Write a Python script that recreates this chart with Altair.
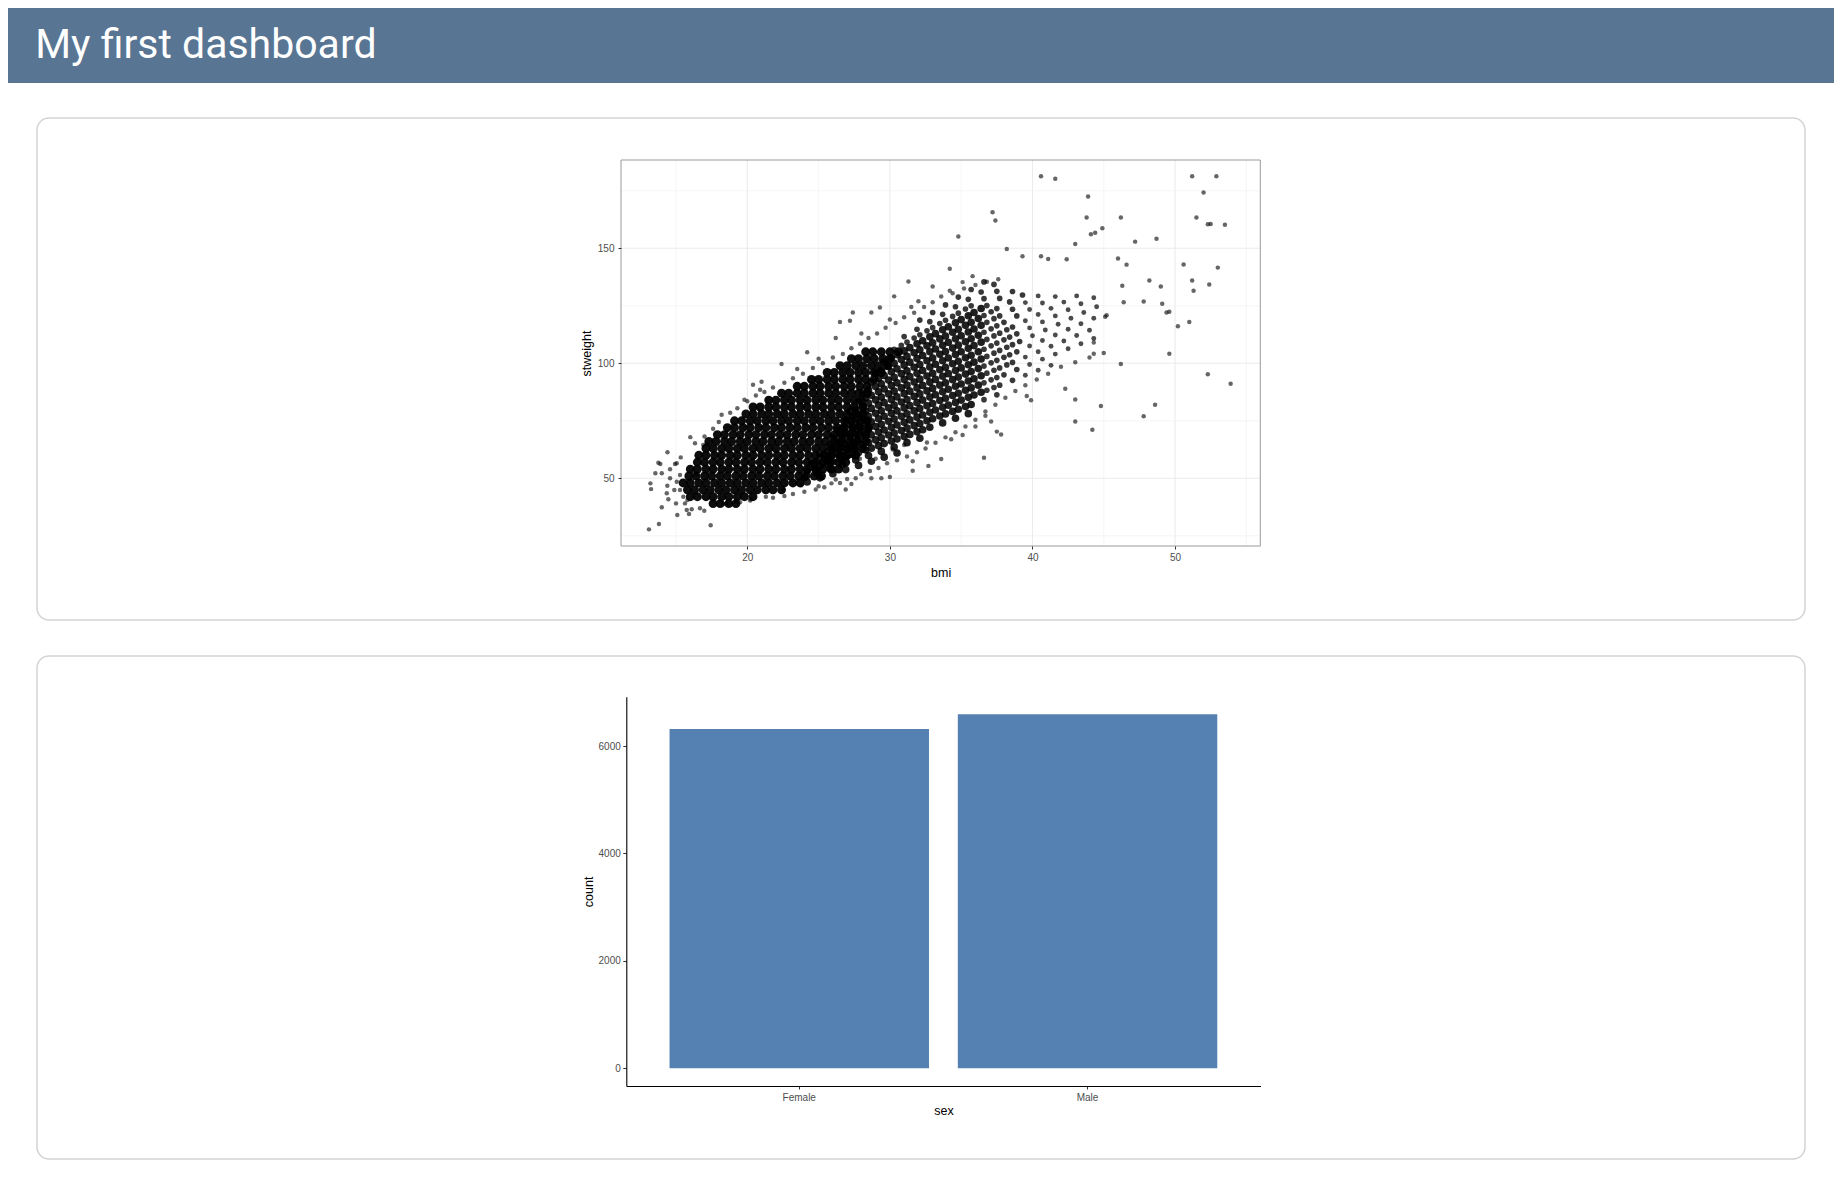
import altair as alt
import pandas as pd

# ---------------- data ----------------
sex = ["Female", "Male"]
sex_count = [6317, 6590]

x_major = [20, 30, 40, 50]
x_minor = [15, 25, 35, 45, 55]
y_major = [50, 100, 150]
y_minor = [25, 75, 125, 175]
count_ticks = [0, 2000, 4000, 6000]

# isolated points (bmi, stweight)
outlier_points = [
    (40.6, 181.3), (41.6, 180.2), (51.2, 181.3), (52.9, 181.3), (52.0, 174.3), (43.9, 172.5),
    (37.2, 165.7), (37.4, 162.1), (43.8, 163.4), (46.2, 163.4), (51.5, 163.4), (52.3, 160.5),
    (52.5, 160.6), (53.5, 160.2), (44.9, 158.7), (44.4, 156.8), (44.1, 156.1), (34.8, 155.1),
    (48.7, 154.2), (47.2, 152.9), (43.0, 151.9), (38.2, 149.7), (39.3, 146.5), (40.6, 146.5),
    (41.1, 145.3), (42.4, 145.2), (46.0, 145.6), (46.6, 142.9), (50.6, 143.0), (53.0, 141.6),
    (34.2, 141.1), (48.2, 136.0), (51.2, 136.0), (52.4, 134.3), (49.0, 133.4), (46.3, 133.7),
    (51.3, 131.5), (46.4, 126.5), (47.8, 126.9), (49.1, 125.9), (49.6, 122.4), (49.4, 122.1),
    (51.0, 118.0), (50.2, 116.1), (49.6, 104.2), (46.2, 99.7), (52.3, 95.2), (53.9, 91.1),
    (42.3, 88.9), (43.0, 84.3), (39.6, 85.8), (39.9, 83.9), (44.8, 81.4), (48.6, 82.0),
    (47.8, 77.0), (43.0, 74.7), (44.2, 71.1), (45.1, 120.2), (45.2, 120.9), (44.3, 104.2),
    (44.3, 109.0),
    (36.7, 77.2), (37.1, 74.7), (37.5, 70.3), (37.8, 69.0), (36.0, 72.5), (35.1, 68.8),
    (34.3, 67.0), (32.6, 65.6), (36.6, 58.9), (33.6, 58.4), (32.7, 55.4), (31.6, 57.4),
    (31.6, 53.3), (30.0, 50.6), (29.4, 50.0), (28.7, 50.0), (27.6, 50.0), (26.9, 45.1),
    (26.5, 48.0), (25.4, 46.1), (24.8, 45.1), (27.3, 47.5),
    (31.3, 135.6), (33.0, 133.4), (34.2, 131.5), (35.1, 135.3), (35.8, 137.9), (30.3, 129.1),
    (29.3, 124.3), (27.4, 122.1), (28.7, 122.1), (26.5, 118.0), (26.2, 111.0), (24.2, 104.8),
    (22.4, 99.7), (20.4, 90.7), (20.9, 88.5), (19.8, 84.2), (18.2, 77.6), (19.7, 76.0),
    (13.1, 27.8), (13.8, 30.1), (14.0, 37.4), (13.2, 47.8), (13.25, 45.3), (13.55, 52.2),
    (14.0, 52.2), (14.4, 61.3), (13.76, 56.8), (13.9, 56.2), (14.58, 53.9), (14.93, 56.2),
    (15.05, 56.5), (15.33, 59.1), (14.39, 46.8), (14.35, 43.5), (14.58, 50.0), (14.88, 44.9),
    (15.0, 39.1), (14.46, 40.9), (15.09, 34.0), (15.63, 39.1), (15.75, 36.2), (15.91, 34.5),
    (16.1, 36.5), (17.43, 29.6), (20.24, 40.9), (19.49, 39.6), (19.21, 39.8), (18.32, 38.8),
    (18.55, 39.1), (16.98, 35.9), (16.68, 37.0), (16.33, 65.2), (16.91, 64.5), (17.15, 64.9),
    (15.28, 51.4), (15.05, 48.5), (15.28, 44.9), (15.51, 42.0), (16.0, 67.9), (17.0, 68.2),
    (16.4, 51.9), (15.8, 40.6), (20.2, 40.4), (21.3, 42.0), (23.2, 43.2),
]

# scattered points along the edges of the main cloud
fringe_points = [
    (17.6, 71.5), (18.0, 74.5), (18.8, 78.5), (19.3, 80.5), (20.0, 83.5), (20.6, 86.0),
    (21.2, 87.5), (21.8, 89.5), (22.6, 91.5), (23.2, 93.5), (23.9, 95.5), (24.6, 98.0),
    (25.3, 100.0), (26.0, 102.5), (26.7, 104.0), (27.3, 106.5), (27.9, 108.5), (28.5, 111.0),
    (29.1, 113.0), (29.7, 115.5), (30.4, 117.5), (31.0, 120.0), (31.7, 122.0), (32.4, 124.5),
    (33.0, 126.5), (33.6, 129.0), (34.4, 130.5), (35.2, 132.5), (36.0, 134.0), (36.8, 135.5),
    (37.6, 136.5), (21.0, 92.0), (23.5, 97.5), (25.0, 102.0), (28.0, 113.0), (30.0, 119.0),
    (32.0, 127.0), (27.2, 118.5), (31.5, 124.5),
    (21.8, 41.5), (22.6, 42.3), (24.0, 44.2), (25.0, 46.5), (25.9, 47.8), (26.2, 49.5),
    (27.0, 49.7), (28.0, 51.8), (28.6, 53.2), (29.2, 54.5), (29.8, 56.5), (30.5, 57.8),
    (31.2, 59.5), (31.9, 61.3), (32.5, 63.0), (33.2, 65.5), (33.9, 67.8), (34.6, 70.0),
    (35.3, 72.5), (36.0, 75.5), (36.7, 79.0), (37.4, 82.0), (38.1, 85.0), (38.8, 88.0),
    (39.5, 90.5), (40.3, 93.0), (41.1, 95.5), (42.0, 98.5), (43.0, 100.5), (44.0, 102.5),
    (45.0, 104.5), (27.9, 58.5), (26.5, 55.0), (25.0, 53.0), (30.2, 62.5), (23.8, 47.0),
    (22.5, 45.0), (29.0, 58.5), (31.0, 64.5),
]

# heavily over-plotted core of the cloud: (stweight, [bmi values])
core_rows = [
    (39, [17.6, 18.1, 18.7, 19.2]),
    (42, [16.0, 16.5, 17.1, 17.6, 18.2, 18.7, 19.3, 19.8, 20.4]),
    (45, [15.8, 16.3, 16.9, 17.4, 18.0, 18.5, 19.1, 19.6, 20.2, 20.7, 21.3, 21.8, 22.4]),
    (48, [15.5, 16.0, 16.6, 17.1, 17.7, 18.2, 18.8, 19.3, 19.9, 20.4, 21.0, 21.5, 22.1, 22.6, 23.2, 23.7]),
    (51, [15.9, 16.4, 17.0, 17.5, 18.1, 18.6, 19.2, 19.7, 20.3, 20.8, 21.4, 21.9, 22.5, 23.0, 23.6, 24.1, 24.7, 25.2]),
    (54, [16.0, 16.5, 17.1, 17.6, 18.2, 18.7, 19.3, 19.8, 20.4, 20.9, 21.5, 22.0, 22.6, 23.1, 23.7, 24.2, 24.8, 25.3, 25.9, 26.4]),
    (57, [16.5, 17.0, 17.6, 18.1, 18.7, 19.2, 19.8, 20.3, 20.9, 21.4, 22.0, 22.5, 23.1, 23.6, 24.2, 24.7, 25.3, 25.8, 26.4, 26.9]),
    (60, [16.6, 17.1, 17.7, 18.2, 18.8, 19.3, 19.9, 20.4, 21.0, 21.5, 22.1, 22.6, 23.2, 23.7, 24.3, 24.8, 25.4, 25.9, 26.5, 27.0, 27.6]),
    (63, [17.1, 17.6, 18.2, 18.7, 19.3, 19.8, 20.4, 20.9, 21.5, 22.0, 22.6, 23.1, 23.7, 24.2, 24.8, 25.3, 25.9, 26.4, 27.0, 27.5, 28.1]),
    (66, [17.3, 17.8, 18.4, 18.9, 19.5, 20.0, 20.6, 21.1, 21.7, 22.2, 22.8, 23.3, 23.9, 24.4, 25.0, 25.5, 26.1, 26.6, 27.2, 27.7, 28.3]),
    (69, [17.9, 18.4, 19.0, 19.5, 20.1, 20.6, 21.2, 21.7, 22.3, 22.8, 23.4, 23.9, 24.5, 25.0, 25.6, 26.1, 26.7, 27.2, 27.8, 28.3]),
    (72, [18.6, 19.1, 19.7, 20.2, 20.8, 21.3, 21.9, 22.4, 23.0, 23.5, 24.1, 24.6, 25.2, 25.7, 26.3, 26.8, 27.4, 27.9, 28.5]),
    (75, [19.1, 19.6, 20.2, 20.7, 21.3, 21.8, 22.4, 22.9, 23.5, 24.0, 24.6, 25.1, 25.7, 26.2, 26.8, 27.3, 27.9, 28.4]),
    (78, [19.9, 20.4, 21.0, 21.5, 22.1, 22.6, 23.2, 23.7, 24.3, 24.8, 25.4, 25.9, 26.5, 27.0, 27.6, 28.1]),
    (81, [20.4, 20.9, 21.5, 22.0, 22.6, 23.1, 23.7, 24.2, 24.8, 25.3, 25.9, 26.4, 27.0, 27.5, 28.1]),
    (84, [21.5, 22.0, 22.6, 23.1, 23.7, 24.2, 24.8, 25.3, 25.9, 26.4, 27.0, 27.5, 28.0]),
    (87, [22.4, 22.9, 23.5, 24.0, 24.6, 25.1, 25.7, 26.2, 26.8, 27.3, 27.8, 28.4]),
    (90, [23.5, 24.0, 24.6, 25.1, 25.7, 26.2, 26.8, 27.3, 27.9, 28.4]),
    (93, [24.5, 25.0, 25.6, 26.1, 26.7, 27.2, 27.8, 28.3, 28.9]),
    (96, [25.6, 26.1, 26.7, 27.2, 27.8, 28.3, 28.9, 29.4]),
    (99, [26.5, 27.0, 27.6, 28.1, 28.7, 29.2, 29.8]),
    (102, [27.3, 27.8, 28.4, 28.9, 29.5, 30.0]),
    (105, [28.3, 28.8, 29.4, 30.0, 30.6]),
]

# streaks of the upper-right part of the cloud, one line per streak: (bmi, stweight)
streak_points = [
    (24.2, 48.4), (25.1, 50.2), (26.0, 52.0), (26.9, 53.8), (27.8, 55.6), (28.7, 57.4), (29.6, 59.2), (30.5, 61.0),
    (24.0, 50.4), (24.9, 52.3), (25.8, 54.2), (26.7, 56.1), (27.6, 58.0), (28.5, 59.9), (29.4, 61.7), (30.3, 63.6), (31.2, 65.5), (32.1, 67.4),
    (24.2, 53.2), (24.7, 54.3), (25.1, 55.2), (25.6, 56.3), (26.0, 57.2), (26.5, 58.3), (26.9, 59.2), (27.4, 60.3), (27.8, 61.2), (28.3, 62.3), (28.7, 63.1), (29.2, 64.2), (29.6, 65.1), (30.1, 66.2), (30.5, 67.1), (31.0, 68.2), (31.4, 69.1), (31.9, 70.2), (32.3, 71.1), (32.8, 72.2), (33.7, 74.1), (34.6, 76.1), (35.5, 78.1),
    (24.5, 56.4), (24.9, 57.3), (25.4, 58.4), (25.8, 59.3), (26.3, 60.5), (26.7, 61.4), (27.2, 62.6), (27.6, 63.5), (28.1, 64.6), (28.5, 65.6), (29.0, 66.7), (29.4, 67.6), (29.9, 68.8), (30.3, 69.7), (30.8, 70.8), (31.2, 71.8), (31.7, 72.9), (32.1, 73.8), (32.6, 75.0), (33.0, 75.9), (33.5, 77.1), (33.9, 78.0), (34.4, 79.1), (34.8, 80.0), (35.3, 81.2), (35.7, 82.1), (36.6, 84.2), (37.5, 86.3),
    (25.1, 60.2), (25.6, 61.4), (26.0, 62.4), (26.5, 63.6), (26.9, 64.6), (27.4, 65.8), (27.8, 66.7), (28.3, 67.9), (28.7, 68.9), (29.2, 70.1), (29.6, 71.0), (30.1, 72.2), (30.5, 73.2), (31.0, 74.4), (31.4, 75.4), (31.9, 76.6), (32.3, 77.5), (32.8, 78.7), (33.2, 79.7), (33.7, 80.9), (34.1, 81.8), (34.6, 83.0), (35.0, 84.0), (35.5, 85.2), (35.9, 86.2), (36.4, 87.4), (36.8, 88.3), (37.3, 89.5), (37.7, 90.5), (38.6, 92.6), (39.5, 94.8), (40.4, 97.0), (41.3, 99.1),
    (25.8, 64.5), (26.3, 65.8), (26.7, 66.8), (27.2, 68.0), (27.6, 69.0), (28.1, 70.3), (28.5, 71.3), (29.0, 72.5), (29.4, 73.5), (29.9, 74.8), (30.3, 75.8), (30.8, 77.0), (31.2, 78.0), (31.7, 79.3), (32.1, 80.3), (32.6, 81.5), (33.0, 82.5), (33.5, 83.8), (33.9, 84.8), (34.4, 86.0), (34.8, 87.0), (35.3, 88.3), (35.7, 89.3), (36.2, 90.5), (36.6, 91.5), (37.1, 92.8), (37.5, 93.8), (38.0, 95.0), (38.9, 97.3), (39.8, 99.5), (40.7, 101.8), (41.6, 104.0), (42.5, 106.3), (43.4, 108.5), (44.3, 110.8),
    (26.0, 67.6), (26.5, 68.9), (26.9, 69.9), (27.4, 71.2), (27.8, 72.3), (28.3, 73.6), (28.7, 74.6), (29.2, 75.9), (29.6, 77.0), (30.1, 78.3), (30.5, 79.3), (31.0, 80.6), (31.4, 81.6), (31.9, 82.9), (32.3, 84.0), (32.8, 85.3), (33.2, 86.3), (33.7, 87.6), (34.1, 88.7), (34.6, 90.0), (35.0, 91.0), (35.5, 92.3), (35.9, 93.3), (36.4, 94.6), (36.8, 95.7), (37.3, 97.0), (37.7, 98.0), (38.2, 99.3), (38.6, 100.4), (39.5, 102.7), (40.4, 105.0), (41.3, 107.4), (42.2, 109.7), (43.1, 112.1), (44.0, 114.4),
    (26.3, 71.0), (26.7, 72.1), (27.2, 73.4), (27.6, 74.5), (28.1, 75.9), (28.5, 77.0), (29.0, 78.3), (29.4, 79.4), (29.9, 80.7), (30.3, 81.8), (30.8, 83.2), (31.2, 84.2), (31.7, 85.6), (32.1, 86.7), (32.6, 88.0), (33.0, 89.1), (33.5, 90.5), (33.9, 91.5), (34.4, 92.9), (34.8, 94.0), (35.3, 95.3), (35.7, 96.4), (36.2, 97.7), (36.6, 98.8), (37.1, 100.2), (37.5, 101.3), (38.0, 102.6), (38.4, 103.7), (38.9, 105.0), (39.8, 107.5), (40.7, 109.9), (41.6, 112.3), (42.5, 114.8), (43.4, 117.2), (44.3, 119.6),
    (26.9, 75.3), (27.4, 76.7), (27.8, 77.8), (28.3, 79.2), (28.7, 80.4), (29.2, 81.8), (29.6, 82.9), (30.1, 84.3), (30.5, 85.4), (31.0, 86.8), (31.4, 87.9), (31.9, 89.3), (32.3, 90.4), (32.8, 91.8), (33.2, 93.0), (33.7, 94.4), (34.1, 95.5), (34.6, 96.9), (35.0, 98.0), (35.5, 99.4), (35.9, 100.5), (36.4, 101.9), (36.8, 103.0), (37.3, 104.4), (37.7, 105.6), (38.2, 107.0), (38.6, 108.1), (39.1, 109.5), (40.0, 112.0), (40.9, 114.5), (41.8, 117.0), (42.7, 119.6), (43.6, 122.1), (44.5, 124.6),
    (27.2, 78.9), (27.6, 80.0), (28.1, 81.5), (28.5, 82.7), (29.0, 84.1), (29.4, 85.3), (29.9, 86.7), (30.3, 87.9), (30.8, 89.3), (31.2, 90.5), (31.7, 91.9), (32.1, 93.1), (32.6, 94.5), (33.0, 95.7), (33.5, 97.2), (33.9, 98.3), (34.4, 99.8), (34.8, 100.9), (35.3, 102.4), (35.7, 103.5), (36.2, 105.0), (36.6, 106.1), (37.1, 107.6), (37.5, 108.8), (38.0, 110.2), (38.4, 111.4), (38.9, 112.8), (39.8, 115.4), (40.7, 118.0), (41.6, 120.6), (42.5, 123.3), (43.4, 125.9), (44.3, 128.5),
    (27.8, 83.4), (28.3, 84.9), (28.7, 86.1), (29.2, 87.6), (29.6, 88.8), (30.1, 90.3), (30.5, 91.5), (31.0, 93.0), (31.4, 94.2), (31.9, 95.7), (32.3, 96.9), (32.8, 98.4), (33.2, 99.6), (33.7, 101.1), (34.1, 102.3), (34.6, 103.8), (35.0, 105.0), (35.5, 106.5), (35.9, 107.7), (36.4, 109.2), (36.8, 110.4), (37.3, 111.9), (37.7, 113.1), (38.2, 114.6), (38.6, 115.8), (39.5, 118.5), (40.4, 121.2), (41.3, 123.9), (42.2, 126.6), (43.1, 129.3),
    (28.1, 87.1), (28.5, 88.4), (29.0, 89.9), (29.4, 91.1), (29.9, 92.7), (30.3, 93.9), (30.8, 95.5), (31.2, 96.7), (31.7, 98.3), (32.1, 99.5), (32.6, 101.1), (33.0, 102.3), (33.5, 103.9), (33.9, 105.1), (34.4, 106.6), (34.8, 107.9), (35.3, 109.4), (35.7, 110.7), (36.2, 112.2), (36.6, 113.5), (37.1, 115.0), (37.5, 116.3), (38.0, 117.8), (38.9, 120.6), (39.8, 123.4), (40.7, 126.2), (41.6, 129.0),
    (28.7, 91.8), (29.2, 93.4), (29.6, 94.7), (30.1, 96.3), (30.5, 97.6), (31.0, 99.2), (31.4, 100.5), (31.9, 102.1), (32.3, 103.4), (32.8, 105.0), (33.2, 106.2), (33.7, 107.8), (34.1, 109.1), (34.6, 110.7), (35.0, 112.0), (35.5, 113.6), (35.9, 114.9), (36.4, 116.5), (36.8, 117.8), (37.3, 119.4), (37.7, 120.6), (38.6, 123.5), (39.5, 126.4), (40.4, 129.3),
    (29.0, 95.7), (29.4, 97.0), (29.9, 98.7), (30.3, 100.0), (30.8, 101.6), (31.2, 103.0), (31.7, 104.6), (32.1, 105.9), (32.6, 107.6), (33.0, 108.9), (33.5, 110.6), (33.9, 111.9), (34.4, 113.5), (34.8, 114.8), (35.3, 116.5), (35.7, 117.8), (36.2, 119.5), (36.6, 120.8), (37.1, 122.4), (37.5, 123.8), (38.4, 126.7), (39.3, 129.7),
    (29.6, 100.6), (30.1, 102.3), (30.5, 103.7), (31.0, 105.4), (31.4, 106.8), (31.9, 108.5), (32.3, 109.8), (32.8, 111.5), (33.2, 112.9), (33.7, 114.6), (34.1, 115.9), (34.6, 117.6), (35.0, 119.0), (35.5, 120.7), (35.9, 122.1), (36.4, 123.8), (36.8, 125.1), (37.7, 128.2), (38.6, 131.2),
    (30.3, 106.1), (30.8, 107.8), (31.2, 109.2), (31.7, 111.0), (32.1, 112.4), (32.6, 114.1), (33.0, 115.5), (33.5, 117.3), (33.9, 118.7), (34.4, 120.4), (34.8, 121.8), (35.3, 123.6), (35.7, 125.0), (36.6, 128.1), (37.5, 131.3),
    (31.0, 111.6), (31.9, 114.8), (32.8, 118.1), (33.7, 121.3), (34.6, 124.6), (35.5, 127.8), (36.4, 131.0), (37.3, 134.3),
    (32.1, 118.8), (33.0, 122.1), (33.9, 125.4), (34.8, 128.8), (35.7, 132.1), (36.6, 135.4),
]

# ---------------- tables ----------------
def flatten(rows):
    return [(b, w) for w, bs in rows for b in bs]

normal_df = pd.DataFrame(outlier_points + fringe_points, columns=["bmi", "stweight"])
streak_df = pd.DataFrame(streak_points, columns=["bmi", "stweight"])
core_df = pd.DataFrame(flatten(core_rows), columns=["bmi", "stweight"])
bar_df = pd.DataFrame({"sex": sex, "count": sex_count})
one = pd.DataFrame({"k": [0]})

W, H = 1826, 1180
FONT = "Liberation Sans"

# scatter panel (pixels inside the canvas)
SX0, SX1, SY0, SY1 = 613, 1252.3, 152, 538
sx = alt.Scale(domain=[11.14, 55.98], range=[SX0, SX1], nice=False, zero=False)
sy = alt.Scale(domain=[20.57, 188.39], range=[SY1, SY0], nice=False, zero=False)

# bar panel
BX0, BX1, BY0, BY1 = 618.3, 1252.5, 688.7, 1078
bx = alt.Scale(range=[BX0, BX1], paddingInner=0.1, paddingOuter=0.15)
by = alt.Scale(domain=[-329.5, 6917.8], range=[BY1, BY0], nice=False, zero=False)

# ---------------- page decorations ----------------
header = alt.Chart(one).mark_rect(color="#587593").encode(
    x=alt.value(0), x2=alt.value(W), y=alt.value(0), y2=alt.value(75))
title = alt.Chart(one).mark_text(
    text="My first dashboard", font="Roboto", fontSize=41, color="#ffffff",
    align="left", baseline="alphabetic").encode(x=alt.value(27.3), y=alt.value(50))
card1 = alt.Chart(one).mark_rect(fill="#ffffff", stroke="#d3d3d3", strokeWidth=1.5, cornerRadius=12).encode(
    x=alt.value(29), x2=alt.value(1797), y=alt.value(110), y2=alt.value(612))
card2 = alt.Chart(one).mark_rect(fill="#ffffff", stroke="#d3d3d3", strokeWidth=1.5, cornerRadius=12).encode(
    x=alt.value(29), x2=alt.value(1797), y=alt.value(648), y2=alt.value(1151))

# ---------------- scatter ----------------
gx_minor = alt.Chart(pd.DataFrame({"v": x_minor})).mark_rule(color="#f2f2f2", strokeWidth=0.7).encode(
    x=alt.X("v:Q", scale=sx, axis=None), y=alt.value(SY0), y2=alt.value(SY1))
gx_major = alt.Chart(pd.DataFrame({"v": x_major})).mark_rule(color="#ebebeb", strokeWidth=1.1).encode(
    x=alt.X("v:Q", scale=sx, axis=None), y=alt.value(SY0), y2=alt.value(SY1))
gy_minor = alt.Chart(pd.DataFrame({"v": y_minor})).mark_rule(color="#f2f2f2", strokeWidth=0.7).encode(
    y=alt.Y("v:Q", scale=sy, axis=None), x=alt.value(SX0), x2=alt.value(SX1))
gy_major = alt.Chart(pd.DataFrame({"v": y_major})).mark_rule(color="#ebebeb", strokeWidth=1.1).encode(
    y=alt.Y("v:Q", scale=sy, axis=None), x=alt.value(SX0), x2=alt.value(SX1))

sc_x_axis = alt.Axis(
    orient="bottom", offset=SY1 - H, values=x_major, format="d", domain=False, grid=False,
    tickSize=3, tickColor="#333333", tickWidth=1, labelFont=FONT, labelFontSize=10,
    labelColor="#4d4d4d", labelPadding=3.5, title="bmi", titleFont=FONT, titleFontSize=12.5,
    titleFontWeight="normal", titleColor="#000000", titleY=30, titleBaseline="alphabetic", zindex=1)
sc_y_axis = alt.Axis(
    orient="left", offset=-SX0, values=y_major, format="d", domain=False, grid=False,
    tickSize=3, tickColor="#333333", tickWidth=1, labelFont=FONT, labelFontSize=10,
    labelColor="#4d4d4d", labelPadding=4, title="stweight", titleFont=FONT, titleFontSize=12.5,
    titleFontWeight="normal", titleColor="#000000", titleX=-31, titleAngle=270,
    titleBaseline="alphabetic", zindex=1)

def sxy():
    return dict(x=alt.X("bmi:Q", scale=sx, axis=None), y=alt.Y("stweight:Q", scale=sy, axis=None))

EDGE = "datum.stweight / datum.bmi > 3.45"
pts = alt.Chart(normal_df).mark_circle(color="#000000", opacity=0.6, size=20).encode(
    x=alt.X("bmi:Q", scale=sx, axis=sc_x_axis),
    y=alt.Y("stweight:Q", scale=sy, axis=sc_y_axis))
streak_dense = alt.Chart(streak_df).transform_filter(
    "datum.bmi < 36.5 && !(" + EDGE + ")").mark_circle(
    color="#000000", opacity=0.88, size=58).encode(**sxy())
streak_mid = alt.Chart(streak_df).transform_filter(
    "(datum.bmi >= 36.5 && datum.bmi < 39.5) || (" + EDGE + ")").mark_circle(
    color="#000000", opacity=0.78, size=32).encode(**sxy())
streak_tail = alt.Chart(streak_df).transform_filter(
    "datum.bmi >= 39.5 && !(" + EDGE + ")").mark_circle(
    color="#000000", opacity=0.7, size=24).encode(**sxy())
core = alt.Chart(core_df).mark_circle(color="#000000", opacity=0.95, size=80).encode(**sxy())
frame = alt.Chart(one).mark_rect(filled=False, stroke="#9a9a9a", strokeWidth=1).encode(
    x=alt.value(SX0), x2=alt.value(SX1), y=alt.value(SY0), y2=alt.value(SY1))

# ---------------- bar chart ----------------
bar_x_axis = alt.Axis(
    orient="bottom", offset=BY1 - H, domainColor="#000000", domainWidth=1.1, grid=False,
    tickSize=3, tickColor="#333333", tickWidth=1, labelAngle=0, labelFont=FONT, labelFontSize=10,
    labelColor="#4d4d4d", labelPadding=3, title="sex", titleFont=FONT, titleFontSize=12.5,
    titleFontWeight="normal", titleColor="#000000", titleY=28, titleBaseline="alphabetic", zindex=1)
bar_y_axis = alt.Axis(
    orient="left", offset=-BX0, values=count_ticks, format="d", domainColor="#000000",
    domainWidth=1.1, grid=False, tickSize=3.5, tickColor="#333333", tickWidth=1,
    labelFont=FONT, labelFontSize=10, labelColor="#4d4d4d", labelPadding=2.5,
    title="count", titleFont=FONT, titleFontSize=12.5, titleFontWeight="normal",
    titleColor="#000000", titleX=-34, titleAngle=270, titleBaseline="alphabetic", zindex=1)

bars = alt.Chart(bar_df).mark_bar(color="#5481b1").encode(
    x=alt.X("sex:N", scale=bx, axis=bar_x_axis, sort=sex),
    y=alt.Y("count:Q", scale=by, axis=bar_y_axis),
    y2=alt.datum(0))

chart = alt.layer(
    header, title, card1, card2,
    gx_minor, gx_major, gy_minor, gy_major,
    streak_tail, streak_mid, streak_dense, core, pts, frame,
    bars,
).resolve_scale(x="independent", y="independent").properties(
    width=W, height=H, autosize=alt.AutoSizeParams(type="none"), padding=0,
    background="#ffffff",
).configure_view(strokeWidth=0)

chart.save("out.html", embed_options={"renderer": "svg", "actions": False})
